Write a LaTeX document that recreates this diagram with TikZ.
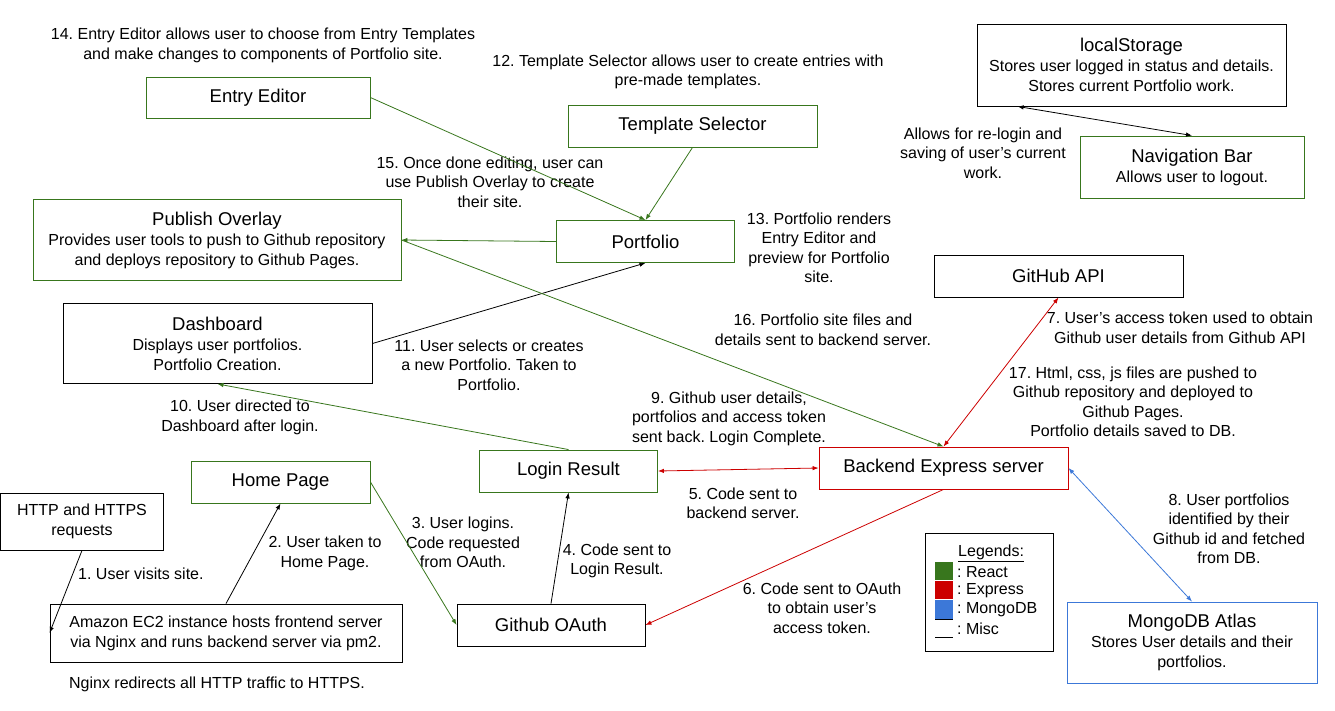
\documentclass[tikz,border=0pt]{standalone}
\usepackage{fontspec}
\setmainfont{Liberation Sans}
\usetikzlibrary{arrows.meta}
\definecolor{rgreen}{HTML}{38761D}
\definecolor{xred}{HTML}{CC0000}
\definecolor{mblue}{HTML}{3C78D8}
\newcommand\ttl[1]{{\fontsize{18.5}{22}\selectfont #1}}
\frenchspacing
\tikzset{
  every node/.style={font=\fontsize{16}{19.5}\selectfont, inner sep=0pt},
  bbox/.style={draw, line width=0.9pt, align=center, font=\fontsize{16}{20}\selectfont},
  gbox/.style={bbox, draw=rgreen},
  rbox/.style={bbox, draw=xred},
  ubox/.style={bbox, draw=mblue},
  lbl/.style={align=center},
  tip/.style={-{Latex[length=6pt,width=4.5pt]}},
  conn/.style={line width=0.8pt, tip},
  dconn/.style={line width=0.8pt, {Latex[length=6pt,width=4.5pt]}-{Latex[length=6pt,width=4.5pt]}}
}
\begin{document}
\begin{tikzpicture}[x=1pt,y=-1pt]
\useasboundingbox (0,0) rectangle (1335,710);
% boxes
\node[gbox, minimum width=224pt, minimum height=41pt] (ee) at (258,97.5) {\ttl{Entry Editor}};
\node[gbox, minimum width=249pt, minimum height=42pt] (ts) at (692.5,126) {\ttl{Template Selector}};
\node[gbox, minimum width=368pt, minimum height=81pt] (po) at (217,240) {\ttl{Publish Overlay}\\Provides user tools to push to Github repository\\and deploys repository to Github Pages.};
\node[gbox, minimum width=178pt, minimum height=42pt] (pf) at (645.5,241.5) {\ttl{Portfolio}};
\node[bbox, minimum width=309pt, minimum height=80pt] (db) at (217.5,343.5) {\ttl{Dashboard}\\Displays user portfolios.\\Portfolio Creation.};
\node[gbox, minimum width=178pt, minimum height=42pt] (lr) at (568.5,471) {\ttl{Login Result}};
\node[gbox, minimum width=179pt, minimum height=42pt] (hp) at (280.5,482) {\ttl{Home Page}};
\node[bbox, minimum width=163pt, minimum height=57pt] (http) at (82,521.5) {HTTP and HTTPS\\requests};
\node[bbox, minimum width=352pt, minimum height=58pt] (ec2) at (226,633) {Amazon EC2 instance hosts frontend server\\via Nginx and runs backend server via pm2.};
\node[bbox, minimum width=188pt, minimum height=42pt] (oa) at (551,625) {\ttl{Github OAuth}};
\node[rbox, minimum width=249pt, minimum height=42pt] (be) at (943.5,468) {\ttl{Backend Express server}};
\node[bbox, minimum width=249pt, minimum height=42pt] (api) at (1058.5,276) {\ttl{GitHub API}};
\node[ubox, minimum width=250pt, minimum height=81pt] (mdb) at (1192,642.5) {\ttl{MongoDB Atlas}\\Stores User details and their\\portfolios.};
\node[bbox, minimum width=309pt, minimum height=82pt] (ls) at (1131.5,65) {\ttl{localStorage}\\Stores user logged in status and details.\\Stores current Portfolio work.};
\node[gbox, minimum width=224pt, minimum height=62pt] (nb) at (1192,167) {\ttl{Navigation Bar}\\Allows user to logout.};
% labels
\node[lbl] (l14) at (263,45.5) {14. Entry Editor allows user to choose from Entry Templates\\and make changes to components of Portfolio site.};
\node[lbl] (l12) at (688,72) {12. Template Selector allows user to create entries with\\pre-made templates.};
\node[lbl] (l15) at (490,182) {15. Once done editing, user can\\use Publish Overlay to create\\their site.};
\node[lbl] (l13) at (819,248) {13. Portfolio renders\\Entry Editor and\\preview for Portfolio\\site.};
\node[lbl] (lre) at (983,153) {Allows for re-login and\\saving of user’s current\\work.};
\node[lbl] (l16) at (823,330) {16. Portfolio site files and\\details sent to backend server.};
\node[lbl] (l7) at (1180,328) {7. User’s access token used to obtain\\Github user details from Github API};
\node[lbl] (l17) at (1133,402) {17. Html, css, js files are pushed to\\Github repository and deployed to\\Github Pages.\\Portfolio details saved to DB.};
\node[lbl] (l11) at (489,365) {11. User selects or creates\\a new Portfolio. Taken to\\Portfolio.};
\node[lbl] (l10) at (240,417.5) {10. User directed to\\Dashboard after login.};
\node[lbl] (l9) at (729,418.5) {9. Github user details,\\portfolios and access token\\sent back. Login Complete.};
\node[lbl] (l5) at (743,503.5) {5. Code sent to\\backend server.};
\node[lbl] (l3) at (463,542.5) {3. User logins.\\Code requested\\from OAuth.};
\node[lbl] (l4) at (617,561) {4. Code sent to\\Login Result.};
\node[lbl] (l2) at (325,553.5) {2. User taken to\\Home Page.};
\node[lbl, anchor=west] (l1) at (78,574) {1. User visits site.};
\node[lbl] (l6) at (822,608) {6. Code sent to OAuth\\to obtain user’s\\access token.};
\node[lbl] (l8) at (1229,529) {8. User portfolios\\identified by their\\Github id and fetched\\from DB.};
\node[lbl] (lng) at (217,684) {Nginx redirects all HTTP traffic to HTTPS.};
% connectors
\draw[conn] (http.south) -- (ec2.west);
\draw[conn] (ec2.north) -- (hp.south);
\draw[conn, rgreen] (hp.east) -- (oa.west);
\draw[conn] (oa.north) -- (lr.south);
\draw[dconn, xred] (lr.east) -- (be.west);
\draw[conn, xred] (be.south) -- (oa.east);
\draw[dconn, xred] (be.north) -- (api.south);
\draw[dconn, mblue] (be.east) -- (mdb.north);
\draw[conn, rgreen] (lr.north) -- (db.south);
\draw[conn] (db.east) -- (pf.south);
\draw[conn, rgreen] (ts.south) -- (pf.north);
\draw[conn, rgreen] (ee.east) -- (pf.north);
\draw[conn, rgreen] (pf.west) -- (po.east);
\draw[conn, rgreen] (po.east) -- (be.north);
\draw[dconn] (ls.200) -- (nb.north);
% legend
\node[draw, line width=0.9pt, minimum width=128pt, minimum height=118pt] (lg) at (989,592) {};
\node[anchor=west] (lgt) at (958,553) {\underline{Legends:}};
\fill[rgreen] (935,562) rectangle (953,580);
\fill[xred] (935,581) rectangle (953,599);
\fill[mblue] (935,600) rectangle (953,619);
\draw[line width=0.9pt] (935,619) -- (953,619);
\draw[line width=0.9pt] (935,637) -- (953,637);
\node[anchor=west] (lga) at (957,572) {: React};
\node[anchor=west] (lgb) at (957,591) {: Express};
\node[anchor=west] (lgc) at (957,610) {: MongoDB};
\node[anchor=west] (lgd) at (957,629) {: Misc};
\end{tikzpicture}
\end{document}
